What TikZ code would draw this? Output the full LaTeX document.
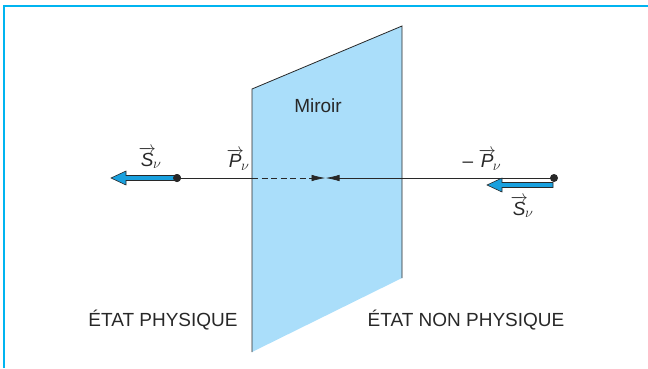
\documentclass[tikz,border=0pt]{standalone}
\usepackage{fontspec}
\setmainfont{Liberation Sans}
\usetikzlibrary{arrows.meta}
\definecolor{cadre}{RGB}{0,180,240}
\definecolor{miroirbleu}{RGB}{170,222,250}
\definecolor{flechebleu}{RGB}{25,160,222}
\definecolor{trait}{RGB}{40,40,40}
\tikzset{
  point/.style={circle, fill=trait, inner sep=0pt, minimum size=8pt},
  etiquette/.style={font=\fontsize{19}{22}\selectfont, text=trait},
  bleue/.style={fill=flechebleu, draw=trait, line width=0.6pt, line join=miter},
}
\newcommand{\vecteur}[1]{$\overrightarrow{\mbox{\textit{#1}}}\!{}_{\nu}$}
\begin{document}
\begin{tikzpicture}[x=1pt, y=-1pt]
  \useasboundingbox (0,0) rectangle (648,368);
  % cadre
  \draw[cadre, line width=1.6pt] (4,368) -- (4,6) -- (648,6);

  \coordinate (HG) at (252,89);
  \coordinate (HD) at (402,26);
  \coordinate (BD) at (402,278);
  \coordinate (BG) at (252,352);

  % miroir
  \fill[miroirbleu] (HG) -- (HD) -- (BD) -- (BG) -- cycle;
  \draw[trait, line width=0.8pt] (BG) -- (HG) -- (HD) -- (BD);
  \node[etiquette] (miroir) at (318,106) {Miroir};

  \node[point] (L) at (177,178) {};
  \node[point] (R) at (554,178) {};
  \coordinate (PL) at (252,178);
  \coordinate (M) at (325.5,178);

  \draw[trait, line width=0.8pt] (L) -- (PL);
  \draw[trait, line width=0.8pt, dashed, dash pattern=on 6pt off 3.5pt, -{Latex[length=14pt, width=6.5pt]}] (PL) -- (M);
  \draw[trait, line width=0.8pt, -{Latex[length=14pt, width=6.5pt]}] (R.center) -- (M);

  % fleches S
  \coordinate (SL) at (111,178);
  \coordinate (SR) at (487,185);
  \coordinate (TR) at (553,185);
  \draw[bleue] (L.center) -- ([yshift=2.5pt]L.center) -- ([xshift=15pt, yshift=2.5pt]SL)
    -- ([xshift=15pt, yshift=7pt]SL) -- (SL) -- ([xshift=15pt, yshift=-7pt]SL)
    -- ([xshift=15pt, yshift=-2.5pt]SL) -- ([yshift=-2.5pt]L.center) -- cycle;
  \draw[bleue] ([yshift=2.5pt]TR) -- ([xshift=15pt, yshift=2.5pt]SR)
    -- ([xshift=15pt, yshift=7pt]SR) -- (SR) -- ([xshift=15pt, yshift=-7pt]SR)
    -- ([xshift=15pt, yshift=-2.5pt]SR) -- ([yshift=-2.5pt]TR) -- cycle;
  \node[point] at (L) {};

  % etiquettes
  \node[etiquette] (sg) at (150,158) {\vecteur{S}};
  \node[etiquette] (pg) at (238,160) {\vecteur{P}};
  \node[etiquette] (pd) at (482,160) {– \vecteur{P}};
  \node[etiquette] (sd) at (522,207) {\vecteur{S}};
  \node[etiquette] (phys) at (163,320) {ÉTAT PHYSIQUE};
  \node[etiquette] (nonphys) at (466,320) {ÉTAT NON PHYSIQUE};
\end{tikzpicture}
\end{document}
